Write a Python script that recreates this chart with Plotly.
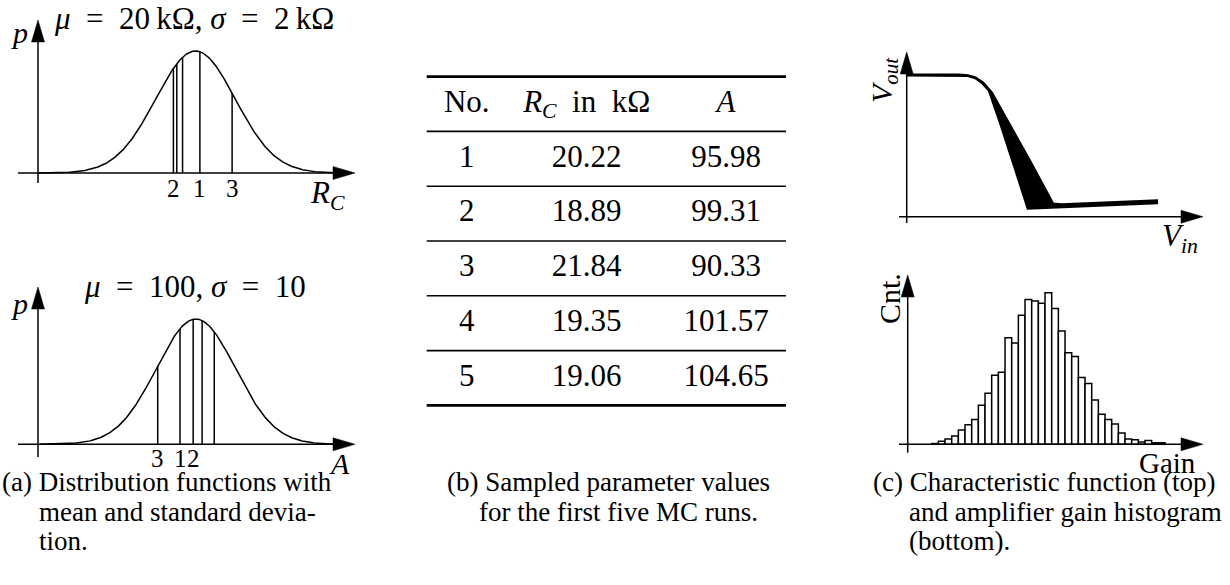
import numpy as np
import plotly.graph_objects as go

W, H = 1230, 585
FONT = "Liberation Serif"

# ---------------- data ----------------
RUN_NO = [1, 2, 3, 4, 5]
RC_KOHM = [20.22, 18.89, 21.84, 19.35, 19.06]
GAIN_A = [95.98, 99.31, 90.33, 101.57, 104.65]
RC_MU, RC_SIGMA = 20.0, 2.0
A_MU, A_SIGMA = 100.0, 10.0
LABELLED_RUNS = 3  # only runs 1-3 carry a label under their line

# characteristic function: envelope of the MC runs (steepest / flattest transfer curve)
VIN_STEEP = [0.0, 2.1, 2.45, 2.75, 3.05, 3.3, 3.75, 4.3, 4.85, 5.3, 7.7, 10.0]
VOUT_STEEP = [10.0, 10.0, 9.96, 9.8, 9.4, 8.9, 6.6, 3.6, 0.6, 0.62, 0.78, 0.97]
VIN_FLAT = [0.0, 2.1, 2.45, 2.75, 3.05, 3.4, 3.95, 4.95, 5.85, 6.2, 10.0]
VOUT_FLAT = [10.0, 10.0, 9.96, 9.8, 9.45, 8.75, 7.0, 3.85, 0.9, 0.85, 1.12]

# amplifier gain histogram
GAIN_BIN_CENTERS = list(range(62, 132, 2))
GAIN_COUNTS = [1, 4, 7, 11, 19, 26, 33, 52, 68, 92, 96, 142, 135, 172, 193, 191,
               188, 202, 181, 151, 122, 117, 89, 81, 59, 40, 33, 27, 15, 7, 6, 3,
               5, 2, 2]

EN = "\u2002"
TABLE_HEADER = ["No.", f"<i>R</i><sub><i>C</i></sub>{EN}in{EN}k\u03a9", "<i>A</i>"]


# ---------------- helpers (pixel layout -> paper / axis ranges) ----------------
def px(x):
    return x / W


def py(y):
    return 1 - y / H


def dom_x(p0, p1):
    return [p0 / W, p1 / W]


def dom_y(p_top, p_bot):
    return [1 - p_bot / H, 1 - p_top / H]


def rng_x(p0, p1, ref_px, ref_val, ppu):
    return [ref_val + (p0 - ref_px) / ppu, ref_val + (p1 - ref_px) / ppu]


def rng_y(p_top, p_bot, ref_py, ref_val, ppu):
    return [ref_val - (p_bot - ref_py) / ppu, ref_val - (p_top - ref_py) / ppu]


def npdf(x, mu, s):
    x = np.asarray(x, dtype=float)
    return np.exp(-0.5 * ((x - mu) / s) ** 2) / (s * np.sqrt(2 * np.pi))


shapes = []
annotations = []
AX_W = 1.5


def h_arrow(x0, x1, y, head=22, half=6.5):
    shapes.append(dict(type="line", xref="paper", yref="paper",
                       x0=px(x0), x1=px(x1 - head + 2), y0=py(y), y1=py(y),
                       line=dict(color="black", width=AX_W)))
    shapes.append(dict(type="path", xref="paper", yref="paper",
                       path=f"M {px(x1)},{py(y)} L {px(x1 - head)},{py(y - half)} "
                            f"L {px(x1 - head)},{py(y + half)} Z",
                       fillcolor="black", line=dict(color="black", width=0.5)))


def v_arrow(x, y0, y1, head=22, half=6.5):
    shapes.append(dict(type="line", xref="paper", yref="paper",
                       x0=px(x), x1=px(x), y0=py(y0), y1=py(y1 + head - 2),
                       line=dict(color="black", width=AX_W)))
    shapes.append(dict(type="path", xref="paper", yref="paper",
                       path=f"M {px(x)},{py(y1)} L {px(x - half)},{py(y1 + head)} "
                            f"L {px(x + half)},{py(y1 + head)} Z",
                       fillcolor="black", line=dict(color="black", width=0.5)))


def text(x, y, s, size, xref="paper", anchor="center", angle=0):
    annotations.append(dict(
        x=(px(x) if xref == "paper" else x), y=py(y), xref=xref, yref="paper",
        text=s, showarrow=False, xanchor=anchor, yanchor="middle", textangle=angle,
        font=dict(family=FONT, size=size, color="black")))


fig = go.Figure()
LINE = dict(color="black", width=1.5)

# ---------------- (a) top: R_C distribution ----------------
xa = np.linspace(RC_MU - 3.95 * RC_SIGMA, RC_MU + 3.6 * RC_SIGMA, 400)
fig.add_trace(go.Scatter(x=xa, y=npdf(xa, RC_MU, RC_SIGMA), mode="lines", line=LINE,
                         xaxis="x", yaxis="y", hoverinfo="skip"))
vx, vy = [], []
for v in RC_KOHM:
    vx += [v, v, None]
    vy += [0, float(npdf(v, RC_MU, RC_SIGMA)), None]
fig.add_trace(go.Scatter(x=vx, y=vy, mode="lines", line=LINE, xaxis="x", yaxis="y",
                         hoverinfo="skip"))
for n, v in zip(RUN_NO[:LABELLED_RUNS], RC_KOHM[:LABELLED_RUNS]):
    text(v, 189, str(n), 25, xref="x")
h_arrow(18, 355, 173)
v_arrow(38, 183, 20)
text(194, 18, f"<i>\u03bc</i>{EN}={EN}20\u2009k\u03a9, <i>\u03c3</i>{EN}={EN}2\u2009k\u03a9", 31)
text(19, 32, "<i>p</i>", 30)
text(327, 195, "<i>R</i><sub><i>C</i></sub>", 31)

# ---------------- (a) bottom: A distribution ----------------
xb = np.linspace(A_MU - 3.95 * A_SIGMA, A_MU + 3.6 * A_SIGMA, 400)
fig.add_trace(go.Scatter(x=xb, y=npdf(xb, A_MU, A_SIGMA), mode="lines", line=LINE,
                         xaxis="x2", yaxis="y2", hoverinfo="skip"))
vx, vy = [], []
for v in GAIN_A:
    vx += [v, v, None]
    vy += [0, float(npdf(v, A_MU, A_SIGMA)), None]
fig.add_trace(go.Scatter(x=vx, y=vy, mode="lines", line=LINE, xaxis="x2", yaxis="y2",
                         hoverinfo="skip"))
for n, v in zip(RUN_NO[:LABELLED_RUNS], GAIN_A[:LABELLED_RUNS]):
    text(v, 458, str(n), 25, xref="x2")
h_arrow(18, 355, 444.3)
v_arrow(38, 457, 287)
text(195, 286, f"<i>\u03bc</i>{EN}={EN}100, <i>\u03c3</i>{EN}={EN}10", 31)
text(19, 303, "<i>p</i>", 30)
text(339, 463, "<i>A</i>", 30)

# ---------------- (b) table ----------------
col_x = [466.7, 586.7, 726.0]
columns = [
    [TABLE_HEADER[0]] + [str(n) for n in RUN_NO],
    [TABLE_HEADER[1]] + [f"{v:.2f}" for v in RC_KOHM],
    [TABLE_HEADER[2]] + [f"{v:.2f}" for v in GAIN_A],
]
rows = list(range(len(RUN_NO) + 1))
for cx, col in zip(col_x, columns):
    fig.add_trace(go.Scatter(x=[cx] * len(col), y=rows, mode="text", text=col,
                             textposition="middle center",
                             textfont=dict(family=FONT, size=31, color="black"),
                             xaxis="x5", yaxis="y5", hoverinfo="skip"))
for r in [r - 0.5 for r in range(len(RUN_NO) + 2)]:
    thick = r in (-0.5, len(RUN_NO) + 0.5)
    shapes.append(dict(type="line", xref="x5", yref="y5", x0=426.7, x1=786, y0=r, y1=r,
                       line=dict(color="black", width=2.7 if thick else 1.6)))

# ---------------- (c) top: characteristic function ----------------
band_x = VIN_STEEP + VIN_FLAT[::-1]
band_y = VOUT_STEEP + VOUT_FLAT[::-1]
fig.add_trace(go.Scatter(x=band_x, y=band_y, mode="lines", fill="toself",
                         fillcolor="black", line=dict(color="black", width=2.8),
                         xaxis="x3", yaxis="y3", hoverinfo="skip"))
h_arrow(899, 1203, 216.7)
v_arrow(906.7, 223, 52)
text(884, 80, "<i>V</i><sub><i>out</i></sub>", 30, angle=-90)
text(1180, 238, "<i>V</i><sub><i>in</i></sub>", 31)

# ---------------- (c) bottom: gain histogram ----------------
fig.add_trace(go.Bar(x=GAIN_BIN_CENTERS, y=GAIN_COUNTS, width=2,
                     marker=dict(color="white", line=dict(color="black", width=1.5)),
                     xaxis="x4", yaxis="y4", hoverinfo="skip"))
h_arrow(899, 1203, 444.3)
v_arrow(907.7, 452.7, 275)
text(889, 299, "Cnt.", 30, angle=-90)
text(1167, 463, "Gain", 29)

# ---------------- captions ----------------
CAP = 27
for x, y, s in [
    (0, 482, "(a) Distribution functions with"),
    (37, 512, "mean and standard devia-"),
    (37, 541, "tion."),
    (445, 482, "(b) Sampled parameter values"),
    (477, 512, "for the first five MC runs."),
    (871, 482, "(c) Characteristic function (top)"),
    (907, 512, "and amplifier gain histogram"),
    (907, 541, "(bottom)."),
]:
    text(x, y, s, CAP, anchor="left")

hidden = dict(visible=False, fixedrange=True)
fig.update_layout(
    width=W, height=H, margin=dict(l=0, r=0, t=0, b=0),
    paper_bgcolor="white", plot_bgcolor="rgba(0,0,0,0)", showlegend=False,
    xaxis=dict(hidden, domain=dom_x(0, 370), range=rng_x(0, 370, 195.5, RC_MU, 19.9)),
    yaxis=dict(hidden, domain=dom_y(0, 230),
               range=rng_y(0, 230, 173, 0, 122 / float(npdf(RC_MU, RC_MU, RC_SIGMA)))),
    xaxis2=dict(hidden, domain=dom_x(0, 370), range=rng_x(0, 370, 195.9, A_MU, 3.95)),
    yaxis2=dict(hidden, domain=dom_y(235, 470),
                range=rng_y(235, 470, 444.3, 0, 125.3 / float(npdf(A_MU, A_MU, A_SIGMA)))),
    xaxis3=dict(hidden, domain=dom_x(880, 1230), range=rng_x(880, 1230, 906.7, 0, 25)),
    yaxis3=dict(hidden, domain=dom_y(40, 235), range=rng_y(40, 235, 216.7, 0, 14.17)),
    xaxis4=dict(hidden, domain=dom_x(880, 1230), range=rng_x(880, 1230, 931.7, 61, 10 / 3)),
    yaxis4=dict(hidden, domain=dom_y(260, 470), range=rng_y(260, 470, 444.3, 0, 0.75)),
    xaxis5=dict(hidden, domain=dom_x(400, 800), range=[400, 800]),
    yaxis5=dict(hidden, domain=dom_y(60, 420),
                range=[(420 - 104) / 54.8, (60 - 104) / 54.8]),
    shapes=shapes, annotations=annotations,
)

fig.write_html("out.html")
